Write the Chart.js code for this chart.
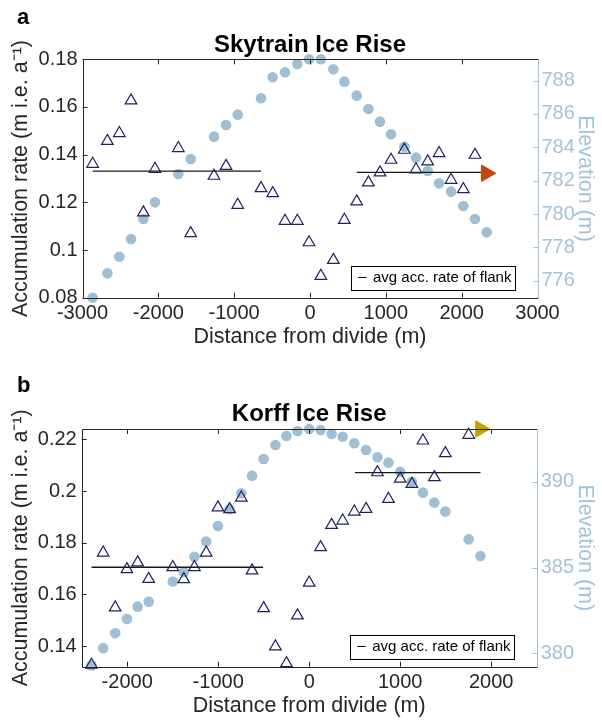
<!DOCTYPE html>
<html><head><meta charset="utf-8">
<script src="https://cdn.jsdelivr.net/npm/chart.js@4.4.1/dist/chart.umd.min.js"></script>
<style>
html,body{margin:0;padding:0;background:#fff;width:602px;height:720px;overflow:hidden}
canvas{position:absolute;left:0}
#c1{top:0}
#c2{top:370px}
</style></head><body>
<canvas id="c1" width="602" height="360"></canvas>
<canvas id="c2" width="602" height="350"></canvas>
<script>
// ---------- Skytrain Ice Rise (panel a) ----------
const skyDist = [-2866,-2672,-2514,-2360,-2197,-2044,-1736,-1573,-1266,-1107,-953,-646,-492,-329,-167,-13,143,308,453,616,770,923,1069,1244,1398,1552,1702,1860,2022,2176,2330];
const skyAcc  = [0.1361,0.1457,0.1490,0.1627,0.1157,0.1340,0.1427,0.1070,0.1311,0.1352,0.1189,0.1259,0.1238,0.1122,0.1122,0.1032,0.0891,0.0958,0.1126,0.1203,0.1283,0.1325,0.1378,0.1420,0.1338,0.1371,0.1406,0.1294,0.1255,0.1399,null];
const skyElev = [774.98,776.44,777.44,778.50,779.70,780.70,782.40,783.30,784.64,785.34,785.96,786.94,788.20,788.50,789.00,789.28,789.28,788.68,787.94,787.10,786.30,785.54,784.78,784.04,783.38,782.58,781.84,781.34,780.48,779.70,778.90];
const skyAvgLeftX  = [-2866,-646];
const skyAvgRightX = [616,2330];
const skyAvgAcc    = [0.1331,0.1326];
const skyArrow     = [2325,0.1322];
const skyXTicks    = [-3000,-2000,-1000,0,1000,2000,3000];
const skyAccTicks  = [0.08,0.1,0.12,0.14,0.16,0.18];
const skyElevTicks = [776,778,780,782,784,786,788];

// ---------- Korff Ice Rise (panel b) ----------
const korDist = [-2392,-2264,-2132,-2003,-1885,-1764,-1499,-1378,-1261,-1132,-1003,-875,-746,-628,-500,-371,-250,-129,0,125,246,368,496,625,750,871,1000,1128,1250,1375,1496,1753,1882];
const korAcc  = [0.1327,0.1761,0.1549,0.1697,0.1723,0.1659,0.1705,0.1658,0.1705,0.1761,0.1936,0.1929,0.1974,0.1692,0.1546,0.1398,0.1333,0.1518,0.1645,0.1782,0.1868,0.1885,0.1920,0.1930,0.2072,0.1969,0.2047,0.2027,0.2195,0.2053,0.2146,0.2217,null];
const korElev = [379.29,380.30,381.17,382.00,382.72,383.01,384.18,384.72,385.63,386.51,387.42,388.39,389.32,390.35,391.32,392.14,392.66,392.95,393.07,393.01,392.78,392.62,392.24,391.85,391.42,391.11,390.58,390.00,389.36,388.78,388.26,386.64,385.67];
const korAvgLeftX  = [-2392,-507];
const korAvgRightX = [503,1882];
const korAvgAcc    = [0.1705,0.2071];
const korArrow     = [1882,0.224];
const korXTicks    = [-2000,-1000,0,1000,2000];
const korAccTicks  = [0.14,0.16,0.18,0.2,0.22];
const korElevTicks = [380,385,390];

const FONT = "'Liberation Sans', Arial, Helvetica, sans-serif";
const DARK = '#262626';
const NAVY = '#1e2160';
const DOT  = '#a0bfd5';
const RAX  = '#a3c3da';

function pts(xs, ys){ return xs.map((x,i)=>({x:x,y:ys[i]})).filter(p=>p.y!==null && p.y!==undefined); }
function fmtAcc(v){ return String(parseFloat(Number(v).toFixed(3))); }

const framePlugin = {
  id:'frame',
  afterDraw(chart){
    const o = chart.options.plugins.frame;
    const {ctx, chartArea:a, scales} = chart;
    ctx.save();
    ctx.lineWidth = 1;
    ctx.strokeStyle = DARK;
    ctx.beginPath();
    scales.x.ticks.forEach(t=>{
      const px = Math.round(scales.x.getPixelForValue(t.value))+0.5;
      ctx.moveTo(px,a.bottom); ctx.lineTo(px,a.bottom-5);
      ctx.moveTo(px,a.top); ctx.lineTo(px,a.top+5);
    });
    scales.y.ticks.forEach(t=>{
      const py = Math.round(scales.y.getPixelForValue(t.value))+0.5;
      ctx.moveTo(a.left,py); ctx.lineTo(a.left+5,py);
    });
    const L = Math.round(a.left)+0.5, R = Math.round(a.right)+0.5, T = Math.round(a.top)+0.5, B = Math.round(a.bottom)+0.5;
    ctx.moveTo(L,T); ctx.lineTo(L,B); ctx.lineTo(R,B);
    ctx.moveTo(L,T); ctx.lineTo(R,T);
    ctx.stroke();
    // right axis
    ctx.strokeStyle = RAX;
    ctx.beginPath();
    ctx.moveTo(R,T); ctx.lineTo(R,B);
    scales.y1.ticks.forEach(t=>{
      const py = Math.round(scales.y1.getPixelForValue(t.value))+0.5;
      ctx.moveTo(R,py); ctx.lineTo(R-5,py);
    });
    ctx.stroke();
    // title
    ctx.fillStyle = '#000';
    ctx.font = 'bold 24px ' + FONT;
    ctx.textAlign = 'center';
    ctx.textBaseline = 'alphabetic';
    ctx.fillText(o.title, (a.left+a.right)/2, o.titleY);
    // panel letter
    ctx.font = 'bold 22px ' + FONT;
    ctx.textAlign = 'left';
    ctx.fillText(o.letter, 17, o.letterY);
    // legend
    const lx = a.left + 268.5, ly = a.bottom - 32, lw = 164, lh = 23.5;
    ctx.fillStyle = '#fff';
    ctx.fillRect(lx, ly, lw, lh);
    ctx.strokeStyle = '#000';
    ctx.lineWidth = 1;
    ctx.strokeRect(Math.round(lx)+0.5, Math.round(ly)+0.5, Math.round(lw), Math.round(lh));
    ctx.beginPath();
    ctx.moveTo(lx+7, ly+lh/2); ctx.lineTo(lx+15.5, ly+lh/2);
    ctx.stroke();
    ctx.fillStyle = '#000';
    ctx.font = '15px ' + FONT;
    ctx.textBaseline = 'middle';
    ctx.fillText('avg acc. rate of flank', lx+22, ly+lh/2+0.5);
    ctx.restore();
  }
};

function makeChart(id, d){
  const ctx = document.getElementById(id);
  return new Chart(ctx, {
    type:'scatter',
    data:{datasets:[
      {label:'arrow', data:[{x:d.arrow[0], y:d.arrow[1]}], yAxisID:'y', pointStyle:'triangle', rotation:90, pointRadius:9.5,
        backgroundColor:d.arrowColor, borderColor:d.arrowColor, borderWidth:1, clip:false, order:0},
      {label:'acc', data:pts(d.dist,d.acc), yAxisID:'y', pointStyle:'triangle', pointRadius:6.7,
        backgroundColor:'rgba(0,0,0,0)', borderColor:NAVY, borderWidth:1.2, clip:false, order:1},
      {label:'avgL', type:'line', data:d.avgL.map(x=>({x:x,y:d.avgAcc[0]})), yAxisID:'y', borderColor:'#1a1a1a', borderWidth:1.3, pointRadius:0, fill:false, clip:false, order:2},
      {label:'avgR', type:'line', data:d.avgR.map(x=>({x:x,y:d.avgAcc[1]})), yAxisID:'y', borderColor:'#1a1a1a', borderWidth:1.3, pointRadius:0, fill:false, clip:false, order:2},
      {label:'elev', data:pts(d.dist,d.elev), yAxisID:'y1', pointStyle:'circle', pointRadius:5.3,
        backgroundColor:DOT, borderColor:DOT, borderWidth:0, clip:false, order:3}
    ]},
    options:{
      responsive:false, animation:false, devicePixelRatio:1,
      layout:{padding:{top:d.padTop,left:0,right:0,bottom:0}, autoPadding:false},
      plugins:{legend:{display:false}, tooltip:{enabled:false}, title:{display:false},
        frame:{title:d.title, titleY:d.titleY, letter:d.letter, letterY:d.letterY}},
      scales:{
        x:{type:'linear', position:'bottom', min:d.xRange[0], max:d.xRange[1],
          afterBuildTicks:s=>{ s.ticks = d.xTicks.map(v=>({value:v})); },
          afterFit:s=>{ s.height = d.xHeight; },
          grid:{display:false, drawTicks:false}, border:{display:false},
          ticks:{padding:4, color:DARK, font:{family:FONT,size:20}, maxRotation:0, autoSkip:false, callback:v=>String(v)},
          title:{display:true, text:'Distance from divide (m)', color:DARK, font:{family:FONT,size:21.5}, padding:{top:0,bottom:d.xTitlePad}}},
        y:{type:'linear', position:'left', min:d.accRange[0], max:d.accRange[1],
          afterBuildTicks:s=>{ s.ticks = d.accTicks.map(v=>({value:v})); },
          afterFit:s=>{ s.width = d.leftW; },
          grid:{display:false, drawTicks:false}, border:{display:false},
          ticks:{padding:5, color:DARK, font:{family:FONT,size:20}, autoSkip:false, callback:v=>fmtAcc(v)},
          title:{display:true, text:'Accumulation rate (m i.e. a\u207B\u00B9)', color:DARK, font:{family:FONT,size:21.5}, padding:{top:8,bottom:0}}},
        y1:{type:'linear', position:'right', min:d.elevRange[0], max:d.elevRange[1],
          afterBuildTicks:s=>{ s.ticks = d.elevTicks.map(v=>({value:v})); },
          afterFit:s=>{ s.width = d.rightW; },
          grid:{display:false, drawTicks:false}, border:{display:false},
          ticks:{padding:4, color:RAX, font:{family:FONT,size:20}, autoSkip:false, callback:v=>String(v)},
          title:{display:true, text:'Elevation (m)', color:RAX, font:{family:FONT,size:21.5}, padding:{top:4,bottom:0}}}
      }
    },
    plugins:[framePlugin]
  });
}

makeChart('c1', {
  dist:skyDist, acc:skyAcc, elev:skyElev, avgL:skyAvgLeftX, avgR:skyAvgRightX, avgAcc:skyAvgAcc,
  arrow:skyArrow, arrowColor:'#c6470c',
  xTicks:skyXTicks, accTicks:skyAccTicks, elevTicks:skyElevTicks,
  xRange:[-3000,3000], accRange:[0.08,0.18], elevRange:[774.98,789.28],
  padTop:59.3, xHeight:62.3, leftW:82.5, rightW:64.5, xTitlePad:10,
  title:'Skytrain Ice Rise', titleY:52, letter:'a', letterY:24
});
makeChart('c2', {
  dist:korDist, acc:korAcc, elev:korElev, avgL:korAvgLeftX, avgR:korAvgRightX, avgAcc:korAvgAcc,
  arrow:korArrow, arrowColor:'#c4a200',
  xTicks:korXTicks, accTicks:korAccTicks, elevTicks:korElevTicks,
  xRange:[-2500,2500], accRange:[0.132,0.224], elevRange:[379.22,393.07],
  padTop:59, xHeight:53.3, leftW:81.7, rightW:65.3, xTitlePad:1,
  title:'Korff Ice Rise', titleY:51, letter:'b', letterY:22
});
</script>
</body></html>
